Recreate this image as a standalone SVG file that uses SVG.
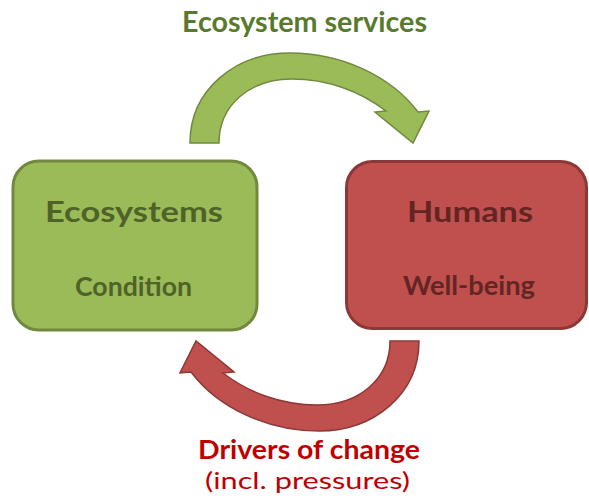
<svg xmlns="http://www.w3.org/2000/svg" width="589" height="501" viewBox="0 0 589 501">
  <style>
    .lbl { font-family: Lato, "Liberation Sans", sans-serif; font-weight: bold; }
    .reg { font-family: Lato, "Liberation Sans", sans-serif; font-weight: normal; }
    .gbox { fill: #9bbb59; stroke: #71893f; stroke-width: 3; }
    .rbox { fill: #c0504d; stroke: #8c3836; stroke-width: 3; }
    .garrow { fill: #9bbb59; stroke: #71893f; stroke-width: 1.5; stroke-linejoin: miter; }
    .rarrow { fill: #c0504d; stroke: #8c3836; stroke-width: 1.5; stroke-linejoin: miter; }
    .gtext { fill: #4f6228; }
    .rtext { fill: #632523; }
  </style>
  <rect width="589" height="501" fill="#ffffff"/>
  <g id="connectors">
    <g id="ecosystem-services">
      <path id="arrow-top" class="garrow" d="M190,143 C190,90 235,53 290,53 C340,53 390,75 418,112 L429,111 L413,143 L375,112 L386,111 C360,91 327,79 292,79 C250,79 219,105 219,143 Z"/>
      <text class="lbl" x="182" y="32" font-size="28" fill="#587a2c" textLength="245" lengthAdjust="spacingAndGlyphs">Ecosystem services</text>
    </g>
    <g id="drivers-of-change">
      <path id="arrow-bottom" class="rarrow" transform="rotate(180 304.5 242)" d="M190,143 C190,90 235,53 290,53 C340,53 390,75 418,112 L429,111 L413,143 L375,112 L386,111 C360,91 327,79 292,79 C250,79 219,105 219,143 Z"/>
      <text class="lbl" x="198" y="459" font-size="27" fill="#c00000" textLength="222" lengthAdjust="spacingAndGlyphs">Drivers of change</text>
      <text class="reg" x="205" y="489" font-size="24" fill="#c00000" textLength="205" lengthAdjust="spacingAndGlyphs">(incl. pressures)</text>
    </g>
  </g>
  <g id="node-ecosystems">
    <rect class="gbox" x="13" y="161" width="244" height="169" rx="26" ry="26"/>
    <text class="lbl gtext" x="45" y="222" font-size="29" textLength="178" lengthAdjust="spacingAndGlyphs">Ecosystems</text>
    <text class="lbl gtext" x="75" y="296" font-size="26" textLength="117" lengthAdjust="spacingAndGlyphs">Condition</text>
  </g>
  <g id="node-humans">
    <rect class="rbox" x="346.5" y="161.5" width="240" height="167" rx="26" ry="26"/>
    <text class="lbl rtext" x="407" y="222" font-size="29" textLength="126" lengthAdjust="spacingAndGlyphs">Humans</text>
    <text class="lbl rtext" x="403" y="295" font-size="26" textLength="132" lengthAdjust="spacingAndGlyphs">Well-being</text>
  </g>
</svg>
